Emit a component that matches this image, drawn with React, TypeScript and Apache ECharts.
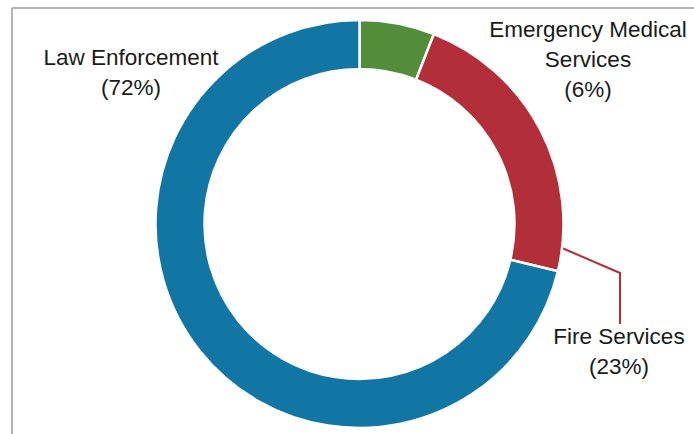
import React, { useEffect, useRef } from "react";
import * as echarts from "echarts";

const categories = ["Emergency Medical\nServices", "Fire Services", "Law Enforcement"];
const shares = [6, 23, 72];
const colors = ["#528d3a", "#b22e38", "#1276a5"];

// label anchor positions (centre of each label block)
const labelPos: [number, number][] = [
  [588, 59],
  [619, 351],
  [131, 72],
];
const fireLine: [number, number][] = [
  [562, 248],
  [620, 273],
  [620, 324],
];

export default function App() {
  const ref = useRef<HTMLDivElement>(null);
  useEffect(() => {
    if (!ref.current) return;
    const chart = echarts.init(ref.current, undefined, { renderer: "svg" });
    chart.setOption({
      animation: false,
      backgroundColor: "#ffffff",
      graphic: [
        {
          type: "line",
          shape: { x1: 12, y1: 8, x2: 694, y2: 8 },
          style: { stroke: "#b4b4b8", lineWidth: 2 },
          silent: true,
        },
        {
          type: "line",
          shape: { x1: 12, y1: 8, x2: 12, y2: 434 },
          style: { stroke: "#b4b4b8", lineWidth: 2 },
          silent: true,
        },
      ],
      series: [
        {
          type: "pie",
          center: [359.5, 224],
          radius: [155, 204],
          startAngle: 90,
          clockwise: true,
          avoidLabelOverlap: false,
          itemStyle: { borderColor: "#ffffff", borderWidth: 2.5 },
          label: {
            show: true,
            position: "outside",
            formatter: (p: any) => `${p.name}\n(${p.value}%)`,
            fontFamily: "Liberation Sans, Arial, sans-serif",
            fontSize: 22.5,
            lineHeight: 30,
            color: "#1a1a1a",
            align: "center",
          },
          labelLine: {
            show: true,
            lineStyle: { width: 2 },
          },
          labelLayout: (params: any) => {
            const i = params.dataIndex;
            const out: any = {
              x: labelPos[i][0],
              y: labelPos[i][1],
              align: "center",
              verticalAlign: "middle",
            };
            if (i === 1) out.labelLinePoints = fireLine;
            return out;
          },
          data: categories.map((c, i) => ({
            name: c,
            value: shares[i],
            itemStyle: { color: colors[i] },
            labelLine: { show: i === 1, lineStyle: { color: colors[i], width: 2 } },
          })),
        },
      ],
    });
    return () => chart.dispose();
  }, []);
  return (
    <div style={{ position: "absolute", left: 0, top: 0, width: 694, height: 434 }}>
      <div ref={ref} style={{ width: 694, height: 434 }} />
    </div>
  );
}
